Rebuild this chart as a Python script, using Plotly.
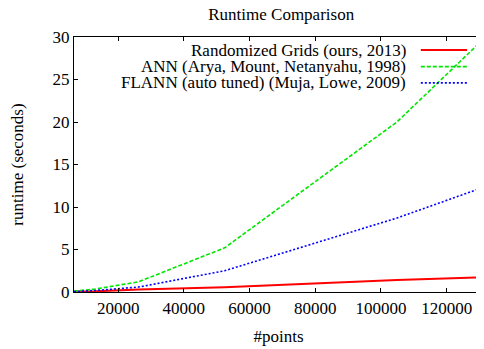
import plotly.graph_objects as go

# Data
points = [6554, 13107, 26214, 52429, 104858, 131072]
grids_runtime = [0.04, 0.08, 0.28, 0.55, 1.4, 1.74]
ann_runtime = [0.1, 0.35, 1.2, 5.2, 20.0, 29.7]
flann_runtime = [0.05, 0.18, 0.58, 2.5, 8.7, 12.3]

series_names = [
    "Randomized Grids (ours, 2013)",
    "ANN (Arya, Mount, Netanyahu, 1998)",
    "FLANN (auto tuned) (Muja, Lowe, 2009)",
]
series_values = [grids_runtime, ann_runtime, flann_runtime]
colors = ["#ff0000", "#00e600", "#0000ff"]
dashes = ["solid", "4px,2px", "2px,2px"]
widths = [2, 1.6, 1.6]

x_ticks = [20000, 40000, 60000, 80000, 100000, 120000]
y_ticks = [0, 5, 10, 15, 20, 25, 30]

FONT = "Liberation Serif, Times New Roman, DejaVu Serif, serif"
F = dict(family=FONT, size=17, color="black")

fig = go.Figure()
for name, vals, c, d, w in zip(series_names, series_values, colors, dashes, widths):
    fig.add_trace(go.Scatter(x=points, y=vals, mode="lines", name=name,
                             line=dict(color=c, dash=d, width=w)))

# gnuplot-style legend: right-aligned text, sample line to the right
row_y = [0.949, 0.884, 0.820]
shapes = []
annotations = []
for name, c, d, w, yy in zip(series_names, colors, dashes, widths, row_y):
    annotations.append(dict(x=0.817, y=yy, xref="paper", yref="paper", text=name,
                            showarrow=False, xanchor="right", yanchor="middle", font=F))
    shapes.append(dict(type="line", xref="paper", yref="paper", x0=0.848, x1=0.961,
                       y0=yy, y1=yy, line=dict(color=c, dash=d, width=w)))

fig.update_layout(
    width=476, height=341,
    margin=dict(l=66, r=1, t=29, b=57),
    paper_bgcolor="white", plot_bgcolor="white",
    showlegend=False,
    font=F,
    title=dict(text="Runtime Comparison", x=0.574, xanchor="center", y=0.982,
               yanchor="middle", font=F),
    shapes=shapes, annotations=annotations,
    xaxis=dict(range=[6554, 131072], tickvals=x_ticks, ticktext=[str(v) for v in x_ticks],
               showgrid=False, zeroline=False, showline=True, linecolor="black",
               linewidth=1.3, mirror="ticks", ticks="inside", ticklen=4, tickcolor="black",
               tickfont=F, title=dict(text="#points", standoff=13, font=F)),
    yaxis=dict(range=[0, 30], tickvals=y_ticks, showgrid=False, zeroline=False,
               showline=True, linecolor="black", linewidth=1.3, mirror="ticks",
               ticks="inside", ticklen=4, tickcolor="black", tickfont=F,
               title=dict(text="runtime (seconds)", standoff=25, font=F)),
)

fig.write_html("out.html")
